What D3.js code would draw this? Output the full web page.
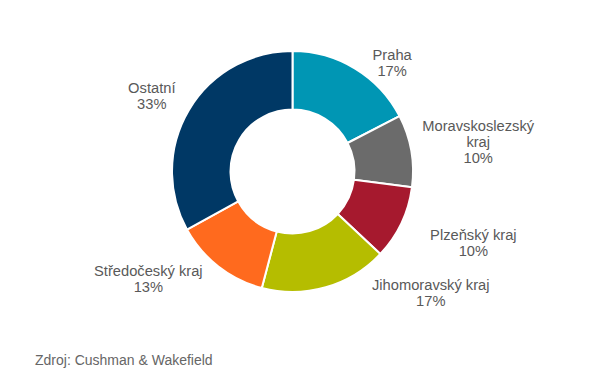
<!DOCTYPE html>
<html>
<head>
<meta charset="utf-8">
<script src="https://cdn.jsdelivr.net/npm/d3@7"></script>
<style>
  html, body { margin: 0; padding: 0; background: #fff; }
  svg { display: block; font-family: Arial, "Liberation Sans", sans-serif; }
</style>
</head>
<body>
<div id="chart"></div>
<script>
// shares (labels show rounded percent)
const regions = ['Praha', 'Moravskoslezský kraj', 'Plzeňský kraj', 'Jihomoravský kraj', 'Středočeský kraj', 'Ostatní']
const shares = [17.4, 9.7, 9.9, 17.1, 12.9, 33.0]
const shareLabels = ['17%', '10%', '10%', '17%', '13%', '33%']
const labelLines = [['Praha'], ['Moravskoslezský', 'kraj'], ['Plzeňský kraj'], ['Jihomoravský kraj'], ['Středočeský kraj'], ['Ostatní']]
const colors = ['#0096b4', '#6b6b6b', '#a6192e', '#b5bd00', '#ff6a1e', '#003865']

const width = 597,
      height = 390,
      cx = 292.5,
      cy = 171.5,
      outerR = 120.5,
      innerR = 62,
      lineH = 16
// label nudges from the outer edge of each slice (Excel placed them by hand)
const nudge = [[37, -8.5], [67, -20], [72, 17], [105, 3], [-70, 9.5], [-37, -17]]

const data = regions.map((r, i) => ({ id: r, value: shares[i], label: shareLabels[i], lines: labelLines[i], color: colors[i] }))

const svg = d3.select('#chart').append('svg')
  .attr('width', width)
  .attr('height', height)

const pie = d3.pie().sort(null).value(d => d.value)
const arc = d3.arc().innerRadius(innerR).outerRadius(outerR)
const edge = d3.arc().innerRadius(outerR).outerRadius(outerR)

const g = svg.append('g').attr('transform', `translate(${cx},${cy})`)
const arcs = pie(data)

g.selectAll('path.slice')
  .data(arcs)
  .join('path')
    .attr('class', 'slice')
    .attr('d', arc)
    .attr('fill', d => d.data.color)
    .attr('stroke', '#fff')
    .attr('stroke-width', 2)
    .attr('stroke-linejoin', 'round')

const labels = g.selectAll('text.label')
  .data(arcs)
  .join('text')
    .attr('class', 'label')
    .attr('text-anchor', 'middle')
    .attr('font-size', '14.7px')
    .attr('fill', '#595959')
    .attr('transform', (d, i) => {
      const p = edge.centroid(d)
      return `translate(${p[0] + nudge[i][0]},${p[1] + nudge[i][1]})`
    })

labels.selectAll('tspan')
  .data(d => d.data.lines.concat([d.data.label]))
  .join('tspan')
    .attr('x', 0)
    .attr('y', (_d, i) => i * lineH)
    .text(d => d)

svg.append('text')
  .attr('x', 35)
  .attr('y', 365)
  .attr('font-size', '14px')
  .attr('fill', '#666')
  .text('Zdroj: Cushman & Wakefield')
</script>
</body>
</html>
